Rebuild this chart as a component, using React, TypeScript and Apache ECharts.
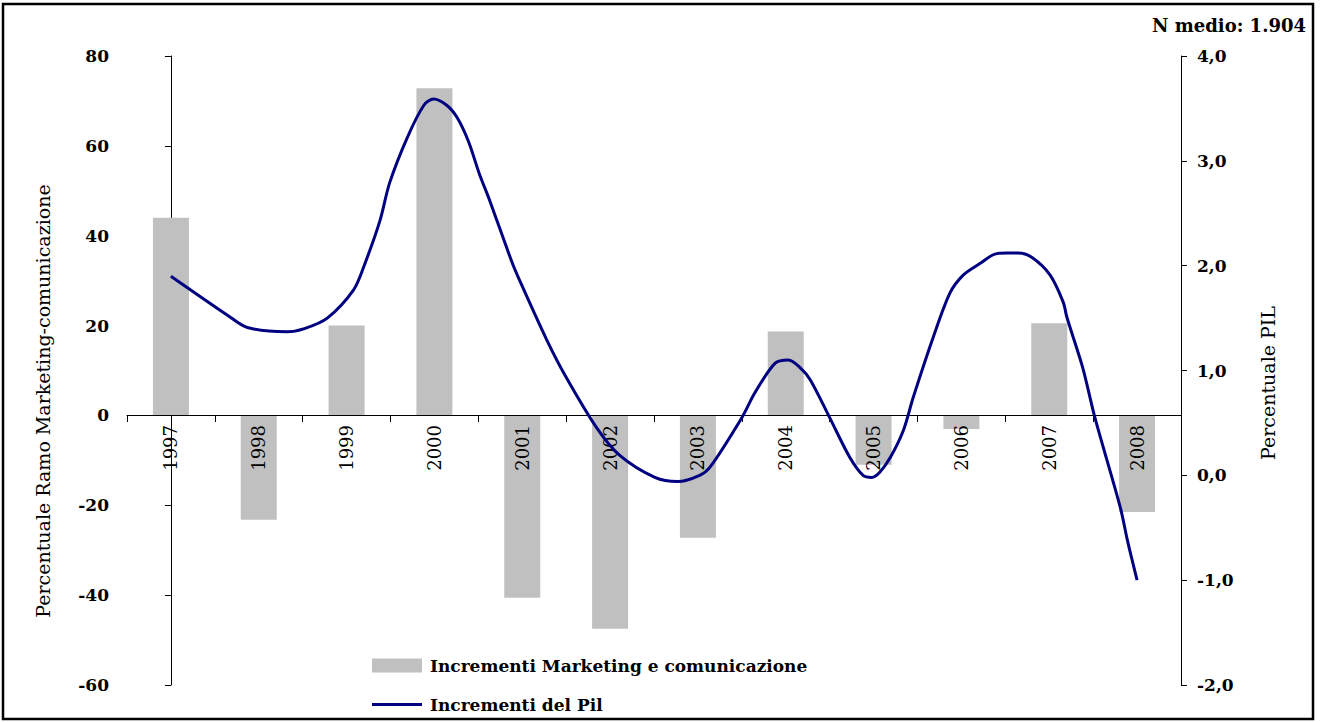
import React, { useEffect, useRef } from "react";
import * as echarts from "echarts";

const years = ["1997","1998","1999","2000","2001","2002","2003","2004","2005","2006","2007","2008"];
const marketing = [44, -23.2, 20, 72.8, -40.6, -47.5, -27.2, 18.7, -11, -3, 20.5, -21.5];
// PIL curve points: [category position, value]
const pil: [number, number][] = [
  [0, 1.9], [0.64, 1.53], [0.87, 1.41], [1.32, 1.37], [1.52, 1.4], [1.78, 1.5], [2.08, 1.77],
  [2.2, 2.0], [2.38, 2.43], [2.49, 2.79], [2.69, 3.22], [2.88, 3.53], [2.99, 3.59], [3.14, 3.53],
  [3.26, 3.41], [3.39, 3.18], [3.51, 2.88], [3.63, 2.62], [3.88, 2.04], [3.97, 1.86], [4.28, 1.29],
  [4.49, 0.95], [4.85, 0.45], [5.11, 0.19], [5.51, -0.02], [5.77, -0.06], [6.02, 0.0], [6.14, 0.08],
  [6.5, 0.55], [6.65, 0.79], [6.88, 1.07], [7.03, 1.1], [7.16, 1.03], [7.28, 0.91], [7.5, 0.55],
  [7.73, 0.17], [7.88, 0.0], [7.98, -0.02], [8.07, 0.03], [8.19, 0.17], [8.34, 0.43], [8.45, 0.74],
  [8.68, 1.32], [8.87, 1.74], [9.02, 1.91], [9.21, 2.02], [9.38, 2.11], [9.52, 2.12], [9.64, 2.12],
  [9.8, 2.08], [10.01, 1.91], [10.16, 1.65], [10.2, 1.51], [10.38, 1.03], [10.52, 0.55],
  [10.81, -0.31], [10.89, -0.62], [11, -1.0],
];
const barName = "Incrementi Marketing e comunicazione";
const lineName = "Incrementi del Pil";
const leftTitle = "Percentuale Ramo Marketing-comunicazione";
const rightTitle = "Percentuale PIL";
const note = "N medio: 1.904";

const SERIF = "'DejaVu Serif', serif";

export default function App() {
  const ref = useRef<HTMLDivElement>(null);
  useEffect(() => {
    document.body.style.margin = "0";
    const chart = echarts.init(ref.current!, null, { renderer: "svg" });
    chart.setOption({
      animation: false,
      backgroundColor: "#ffffff",
      grid: [
        { left: 127, right: 141, top: 56, bottom: 37, outerBoundsMode: "none", containLabel: false },
        { left: 127, right: 141, top: 56, height: 359, outerBoundsMode: "none", containLabel: false },
      ],
      legend: {
        orient: "vertical",
        left: 372,
        top: 657,
        padding: 0,
        itemWidth: 50,
        itemHeight: 14,
        itemGap: 22,
        textStyle: { fontFamily: SERIF, fontWeight: "bold", fontSize: 17, color: "#000", padding: [0, 0, 0, 3] },
        data: [
          { name: barName, icon: "rect" },
          { name: lineName, icon: "path://M0,0 L50,0 L50,3 L0,3 Z" },
        ],
      },
      xAxis: [
        { type: "category", data: years, gridIndex: 0, show: false },
        { type: "value", min: -0.5, max: 11.5, gridIndex: 0, show: false },
        {
          type: "category",
          data: years,
          gridIndex: 1,
          z: 10,
          axisLine: { onZero: false, lineStyle: { color: "#000", width: 1 } },
          axisTick: { show: true, length: 7, lineStyle: { color: "#000" } },
          axisLabel: { interval: 0, rotate: 90, margin: 10, fontFamily: SERIF, fontSize: 18, color: "#000" },
        },
      ],
      yAxis: [
        {
          type: "value",
          gridIndex: 0,
          min: -60,
          max: 80,
          interval: 20,
          splitLine: { show: false },
          axisLine: { show: true, lineStyle: { color: "#000" } },
          axisTick: { show: true, length: 6, lineStyle: { color: "#000" } },
          axisLabel: { margin: 18, fontFamily: SERIF, fontWeight: "bold", fontSize: 17, color: "#000" },
        },
        {
          type: "value",
          gridIndex: 0,
          min: -2,
          max: 4,
          interval: 1,
          position: "right",
          splitLine: { show: false },
          axisLine: { show: true, lineStyle: { color: "#000" } },
          axisTick: { show: true, length: 6, lineStyle: { color: "#000" } },
          axisLabel: {
            margin: 16,
            fontFamily: SERIF,
            fontWeight: "bold",
            fontSize: 17,
            color: "#000",
            formatter: (v: number) => v.toFixed(1).replace(".", ","),
          },
        },
        { type: "value", gridIndex: 1, min: 0, max: 1, show: false },
      ],
      series: [
        {
          name: barName,
          type: "bar",
          data: marketing,
          barWidth: 36,
          itemStyle: { color: "#C0C0C0" },
          xAxisIndex: 0,
          yAxisIndex: 0,
          z: 2,
        },
        {
          name: lineName,
          type: "line",
          data: pil,
          xAxisIndex: 1,
          yAxisIndex: 1,
          symbol: "none",
          smooth: 0.3,
          lineStyle: { color: "#000080", width: 3 },
          itemStyle: { color: "#000080" },
          z: 12,
        },
      ],
      graphic: [
        {
          type: "rect",
          shape: { x: 3, y: 4, width: 1310, height: 715 },
          style: { fill: "none", stroke: "#000", lineWidth: 2.5 },
          silent: true,
        },
        {
          type: "text",
          x: 43,
          y: 401,
          rotation: Math.PI / 2,
          style: { text: leftTitle, font: `19px ${SERIF}`, fill: "#000", textAlign: "center", textVerticalAlign: "middle" },
        },
        {
          type: "text",
          x: 1268,
          y: 383,
          rotation: Math.PI / 2,
          style: { text: rightTitle, font: `19px ${SERIF}`, fill: "#000", textAlign: "center", textVerticalAlign: "middle" },
        },
        {
          type: "text",
          x: 1306,
          y: 25,
          style: { text: note, font: `bold 18px ${SERIF}`, fill: "#000", textAlign: "right", textVerticalAlign: "middle" },
        },
      ],
    });
    return () => chart.dispose();
  }, []);
  return <div ref={ref} style={{ position: "absolute", left: 0, top: 0, width: 1322, height: 722 }} />;
}
